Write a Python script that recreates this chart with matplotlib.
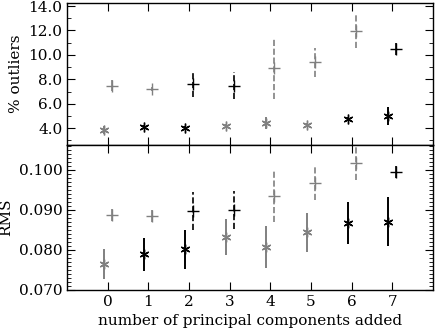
import numpy as np
import matplotlib.pyplot as plt
from matplotlib.ticker import MultipleLocator, FormatStrFormatter

plt.rcParams['font.family'] = ['DejaVu Serif']

n_pc = [0, 1, 2, 3, 4, 5, 6, 7]

# % outliers
out_star = [3.86, 4.13, 4.05, 4.19, 4.41, 4.27, 4.76, 5.00]
out_star_err = [0.30, 0.15, 0.12, 0.15, 0.50, 0.15, 0.15, 0.75]
out_plus = [7.48, 7.19, 7.60, 7.48, 8.90, 9.40, 11.95, 10.46]
out_plus_err = [0.45, 0.15, 1.05, 1.10, 2.50, 1.20, 1.40, 0.50]

# RMS
rms_star = [0.0765, 0.0789, 0.0802, 0.0832, 0.0807, 0.0844, 0.0867, 0.0871]
rms_star_err = [0.0037, 0.0041, 0.0049, 0.0045, 0.0052, 0.0049, 0.0053, 0.0062]
rms_plus = [0.08875, 0.0886, 0.0898, 0.0900, 0.0936, 0.0968, 0.1018, 0.0996]
rms_plus_err = [0.0016, 0.0015, 0.0047, 0.0047, 0.0066, 0.0043, 0.0043, 0.0015]

gray = '#808080'
star_col = [gray, 'k', 'k', gray, gray, gray, 'k', 'k']
plus_col = [gray, gray, 'k', 'k', gray, gray, gray, 'k']
plus_ls = ['-', '-', '--', '--', '--', '--', '--', '-']

fig = plt.figure(figsize=(4.36, 3.31), dpi=100)
ax1 = fig.add_axes([0.154, 0.562, 0.839, 0.429])
ax2 = fig.add_axes([0.154, 0.124, 0.839, 0.438], sharex=ax1)


def draw(ax, ys, yse, yp, ype):
    for i, x in enumerate(n_pc):
        ax.errorbar(x - 0.1, ys[i], yerr=yse[i], fmt='none', ecolor=star_col[i],
                    elinewidth=1.4, capsize=0)
        ax.plot(x - 0.1, ys[i], marker=(6, 2, 0), ms=7, color=star_col[i],
                mew=1.0, ls='none')
        eb = ax.errorbar(x + 0.1, yp[i], yerr=ype[i], fmt='none',
                         ecolor=plus_col[i], elinewidth=1.2, capsize=0)
        eb[2][0].set_linestyle(plus_ls[i])
        ax.plot(x + 0.1, yp[i], marker='+', ms=9, color=plus_col[i],
                mew=1.0, ls='none')
    ax.tick_params(which='both', direction='in', top=True, right=True,
                   labelsize=11)
    ax.tick_params(which='major', length=6)
    ax.tick_params(which='minor', length=3)
    for s in ax.spines.values():
        s.set_linewidth(1.0)


draw(ax1, out_star, out_star_err, out_plus, out_plus_err)
draw(ax2, rms_star, rms_star_err, rms_plus, rms_plus_err)

ax1.set_xlim(-1, 8)
ax1.set_xticks(n_pc)
ax1.set_ylim(2.63, 14.25)
ax1.set_yticks([4, 6, 8, 10, 12, 14])
ax1.yaxis.set_minor_locator(MultipleLocator(1))
ax1.yaxis.set_major_formatter(FormatStrFormatter('%.1f'))
ax1.tick_params(labelbottom=False)
ax1.set_ylabel('% outliers', fontsize=11)

ax2.set_ylim(0.070, 0.10625)
ax2.set_yticks([0.070, 0.080, 0.090, 0.100])
ax2.yaxis.set_minor_locator(MultipleLocator(0.001))
ax2.yaxis.set_major_formatter(FormatStrFormatter('%.3f'))
ax2.set_ylabel('RMS', fontsize=11)
ax2.set_xlabel('number of principal components added', fontsize=11)

fig.align_ylabels([ax1, ax2])
fig.savefig('out.png', dpi=100)
